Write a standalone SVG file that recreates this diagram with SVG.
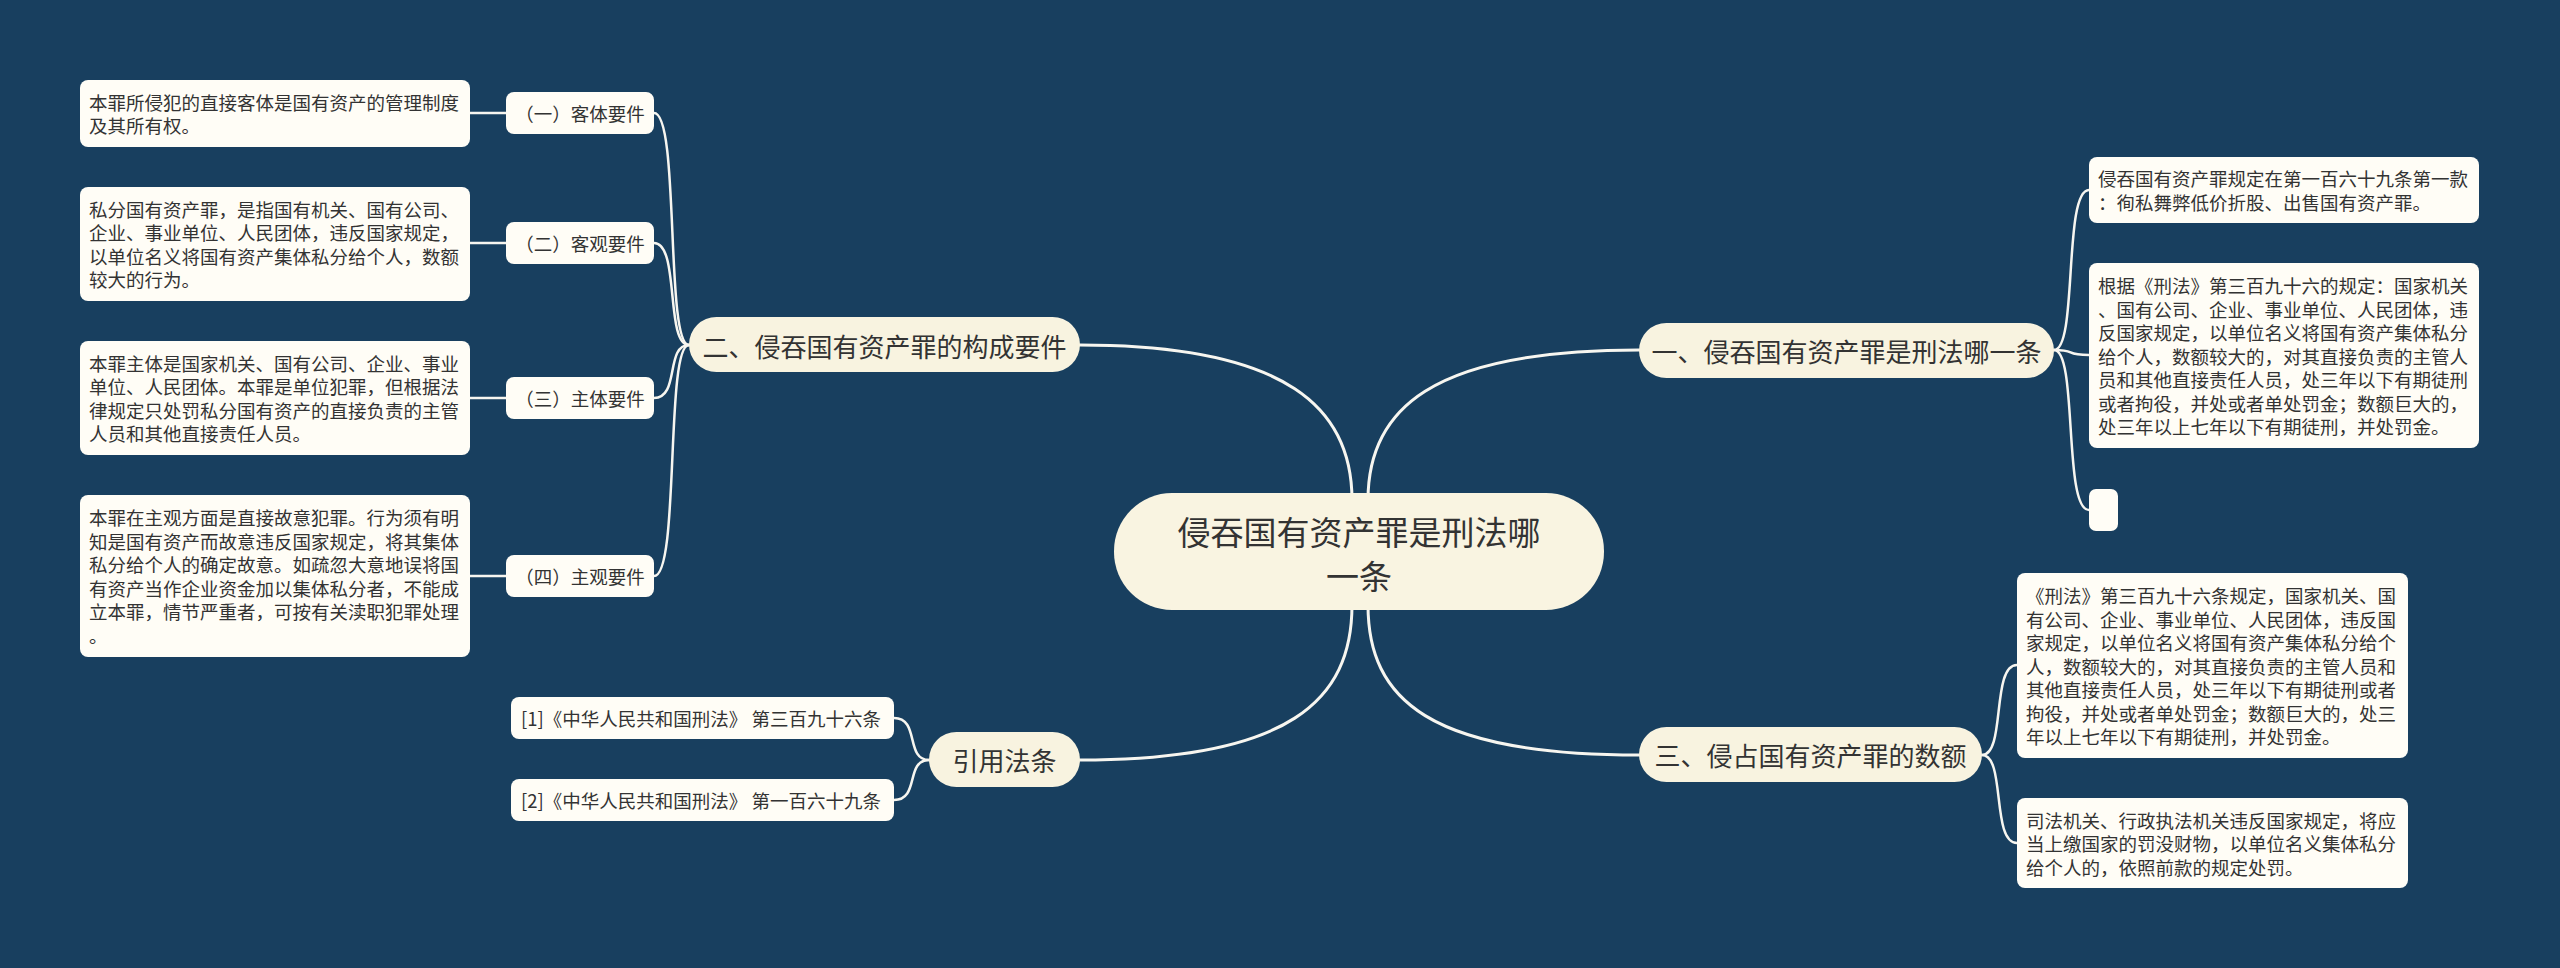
<svg xmlns="http://www.w3.org/2000/svg" width="2560" height="968" viewBox="0 0 2560 968">
<style>
text{font-family:"Noto Sans CJK SC","Noto Sans",sans-serif;fill:#333333;dominant-baseline:central}
.bg{fill:#183f5f}
.main{fill:#f9f4e1}
.l1{fill:#f8f3e0}
.box{fill:#fffdf6}
.t33{font-size:33px}
.t26{font-size:26px}
.t18{font-size:18.5px}
.mid{text-anchor:middle}
.ln{fill:none;stroke:#f7f6f0;stroke-width:2.5;stroke-linecap:round}
.lm{fill:none;stroke:#f7f6f0;stroke-width:3;stroke-linecap:round}
</style>
<rect class="bg" x="0" y="0" width="2560" height="968"/>
<g id="connectors">
<path class="lm" d="M1080 345 C1290 345 1352 410 1352 500"/>
<path class="lm" d="M1639 350 C1430 350 1368 410 1368 500"/>
<path class="lm" d="M1080 760 C1290 760 1352 700 1352 605"/>
<path class="lm" d="M1639 755 C1430 755 1368 700 1368 605"/>
<path class="ln" d="M689 345 C665 345 680 113 654 113"/>
<path class="ln" d="M689 345 C665 345 680 243 654 243"/>
<path class="ln" d="M689 345 C665 345 680 398 654 398"/>
<path class="ln" d="M689 345 C665 345 680 576 654 576"/>
<path class="ln" d="M506 113 H470"/>
<path class="ln" d="M506 243 H470"/>
<path class="ln" d="M506 398 H470"/>
<path class="ln" d="M506 576 H470"/>
<path class="ln" d="M2054 350 C2078 350 2063 190 2089 190"/>
<path class="ln" d="M2054 350 C2078 350 2063 355 2089 355"/>
<path class="ln" d="M2054 350 C2078 350 2063 510 2089 510"/>
<path class="ln" d="M1982 755 C2006 755 1991 665 2017 665"/>
<path class="ln" d="M1982 755 C2006 755 1991 843 2017 843"/>
<path class="ln" d="M929 760 C905 760 920 718 894 718"/>
<path class="ln" d="M929 760 C905 760 920 800 894 800"/>
</g>
<g id="center">
<rect class="main" x="1114" y="493" width="490" height="117" rx="58"/>
<text class="t33 mid" x="1359" y="531">侵吞国有资产罪是刑法哪</text>
<text class="t33 mid" x="1359" y="575">一条</text>
</g>
<g id="n2">
<rect class="l1" x="689" y="317" width="391" height="55" rx="27.5"/>
<text class="t26 mid" x="884.5" y="345">二、侵吞国有资产罪的构成要件</text>
</g>
<g id="n2-1">
<rect class="box" x="506" y="92" width="148" height="42" rx="8"/>
<text class="t18 mid" x="580" y="113">（一）客体要件</text>
</g>
<g id="n2-2">
<rect class="box" x="506" y="222" width="148" height="42" rx="8"/>
<text class="t18 mid" x="580" y="243">（二）客观要件</text>
</g>
<g id="n2-3">
<rect class="box" x="506" y="377" width="148" height="42" rx="8"/>
<text class="t18 mid" x="580" y="398">（三）主体要件</text>
</g>
<g id="n2-4">
<rect class="box" x="506" y="555" width="148" height="42" rx="8"/>
<text class="t18 mid" x="580" y="576">（四）主观要件</text>
</g>
<g id="b2-1">
<rect class="box" x="80" y="80" width="390" height="67" rx="8"/>
<text class="t18" x="89" y="101.75">本罪所侵犯的直接客体是国有资产的管理制度</text>
<text class="t18" x="89" y="125.25">及其所有权。</text>
</g>
<g id="b2-2">
<rect class="box" x="80" y="187" width="390" height="114" rx="8"/>
<text class="t18" x="89" y="208.75">私分国有资产罪，是指国有机关、国有公司、</text>
<text class="t18" x="89" y="232.25">企业、事业单位、人民团体，违反国家规定，</text>
<text class="t18" x="89" y="255.75">以单位名义将国有资产集体私分给个人，数额</text>
<text class="t18" x="89" y="279.25">较大的行为。</text>
</g>
<g id="b2-3">
<rect class="box" x="80" y="341" width="390" height="114" rx="8"/>
<text class="t18" x="89" y="362.75">本罪主体是国家机关、国有公司、企业、事业</text>
<text class="t18" x="89" y="386.25">单位、人民团体。本罪是单位犯罪，但根据法</text>
<text class="t18" x="89" y="409.75">律规定只处罚私分国有资产的直接负责的主管</text>
<text class="t18" x="89" y="433.25">人员和其他直接责任人员。</text>
</g>
<g id="b2-4">
<rect class="box" x="80" y="495" width="390" height="162" rx="8"/>
<text class="t18" x="89" y="517.25">本罪在主观方面是直接故意犯罪。行为须有明</text>
<text class="t18" x="89" y="540.75">知是国有资产而故意违反国家规定，将其集体</text>
<text class="t18" x="89" y="564.25">私分给个人的确定故意。如疏忽大意地误将国</text>
<text class="t18" x="89" y="587.75">有资产当作企业资金加以集体私分者，不能成</text>
<text class="t18" x="89" y="611.25">立本罪，情节严重者，可按有关渎职犯罪处理</text>
<text class="t18" x="89" y="634.75">。</text>
</g>
<g id="n1">
<rect class="l1" x="1639" y="323" width="415" height="55" rx="27.5"/>
<text class="t26 mid" x="1846.5" y="350">一、侵吞国有资产罪是刑法哪一条</text>
</g>
<g id="b1-1">
<rect class="box" x="2089" y="157" width="390" height="66" rx="8"/>
<text class="t18" x="2098" y="178.25">侵吞国有资产罪规定在第一百六十九条第一款</text>
<text class="t18" x="2098" y="201.75">：徇私舞弊低价折股、出售国有资产罪。</text>
</g>
<g id="b1-2">
<rect class="box" x="2089" y="263" width="390" height="185" rx="8"/>
<text class="t18" x="2098" y="285">根据《刑法》第三百九十六的规定：国家机关</text>
<text class="t18" x="2098" y="308.5">、国有公司、企业、事业单位、人民团体，违</text>
<text class="t18" x="2098" y="332">反国家规定，以单位名义将国有资产集体私分</text>
<text class="t18" x="2098" y="355.5">给个人，数额较大的，对其直接负责的主管人</text>
<text class="t18" x="2098" y="379">员和其他直接责任人员，处三年以下有期徒刑</text>
<text class="t18" x="2098" y="402.5">或者拘役，并处或者单处罚金；数额巨大的，</text>
<text class="t18" x="2098" y="426">处三年以上七年以下有期徒刑，并处罚金。</text>
</g>
<g id="b1-3">
<rect class="box" x="2089" y="489" width="29" height="42" rx="7"/>
</g>
<g id="n3">
<rect class="l1" x="1639" y="727" width="343" height="55" rx="27.5"/>
<text class="t26 mid" x="1810.5" y="754.5">三、侵占国有资产罪的数额</text>
</g>
<g id="b3-1">
<rect class="box" x="2017" y="573" width="391" height="185" rx="8"/>
<text class="t18" x="2026" y="595">《刑法》第三百九十六条规定，国家机关、国</text>
<text class="t18" x="2026" y="618.5">有公司、企业、事业单位、人民团体，违反国</text>
<text class="t18" x="2026" y="642">家规定，以单位名义将国有资产集体私分给个</text>
<text class="t18" x="2026" y="665.5">人，数额较大的，对其直接负责的主管人员和</text>
<text class="t18" x="2026" y="689">其他直接责任人员，处三年以下有期徒刑或者</text>
<text class="t18" x="2026" y="712.5">拘役，并处或者单处罚金；数额巨大的，处三</text>
<text class="t18" x="2026" y="736">年以上七年以下有期徒刑，并处罚金。</text>
</g>
<g id="b3-2">
<rect class="box" x="2017" y="798" width="391" height="90" rx="8"/>
<text class="t18" x="2026" y="819.5">司法机关、行政执法机关违反国家规定，将应</text>
<text class="t18" x="2026" y="843">当上缴国家的罚没财物，以单位名义集体私分</text>
<text class="t18" x="2026" y="866.5">给个人的，依照前款的规定处罚。</text>
</g>
<g id="n4">
<rect class="l1" x="929" y="732" width="151" height="55" rx="27.5"/>
<text class="t26 mid" x="1004.5" y="759.5">引用法条</text>
</g>
<g id="r1">
<rect class="box" x="511" y="697" width="383" height="42" rx="8"/>
<text class="t18" x="521" y="718">[1]《中华人民共和国刑法》 第三百九十六条</text>
</g>
<g id="r2">
<rect class="box" x="511" y="779" width="383" height="42" rx="8"/>
<text class="t18" x="521" y="800">[2]《中华人民共和国刑法》 第一百六十九条</text>
</g>
</svg>
